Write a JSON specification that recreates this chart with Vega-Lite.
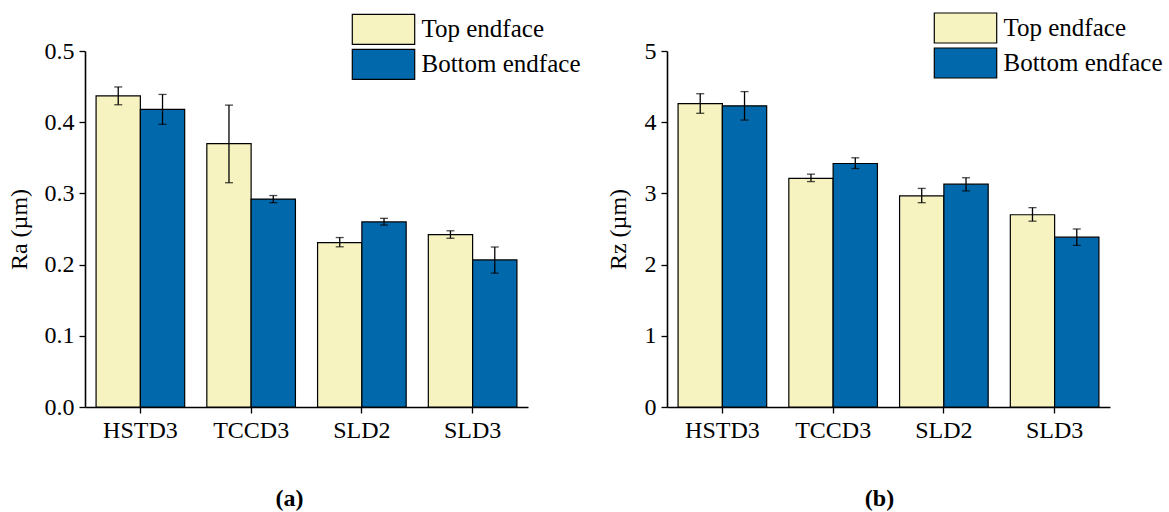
{
  "$schema": "https://vega.github.io/schema/vega-lite/v6.json",
  "padding": {"left": 7, "top": 12, "right": 4, "bottom": 2},
  "background": "white",
  "bounds": "flush",
  "spacing": 139,
  "datasets": {
    "ra": [
      {"group": "HSTD3", "face": "Top endface", "v": 0.437, "lo": 0.4245, "hi": 0.4495},
      {"group": "HSTD3", "face": "Bottom endface", "v": 0.418, "lo": 0.397, "hi": 0.439},
      {"group": "TCCD3", "face": "Top endface", "v": 0.370, "lo": 0.315, "hi": 0.424},
      {"group": "TCCD3", "face": "Bottom endface", "v": 0.292, "lo": 0.287, "hi": 0.297},
      {"group": "SLD2", "face": "Top endface", "v": 0.231, "lo": 0.225, "hi": 0.238},
      {"group": "SLD2", "face": "Bottom endface", "v": 0.260, "lo": 0.2555, "hi": 0.265},
      {"group": "SLD3", "face": "Top endface", "v": 0.242, "lo": 0.237, "hi": 0.2475},
      {"group": "SLD3", "face": "Bottom endface", "v": 0.2065, "lo": 0.188, "hi": 0.2247}
    ],
    "rz": [
      {"group": "HSTD3", "face": "Top endface", "v": 4.26, "lo": 4.125, "hi": 4.40},
      {"group": "HSTD3", "face": "Bottom endface", "v": 4.23, "lo": 4.03, "hi": 4.43},
      {"group": "TCCD3", "face": "Top endface", "v": 3.21, "lo": 3.166, "hi": 3.27},
      {"group": "TCCD3", "face": "Bottom endface", "v": 3.42, "lo": 3.35, "hi": 3.50},
      {"group": "SLD2", "face": "Top endface", "v": 2.965, "lo": 2.87, "hi": 3.07},
      {"group": "SLD2", "face": "Bottom endface", "v": 3.13, "lo": 3.035, "hi": 3.22},
      {"group": "SLD3", "face": "Top endface", "v": 2.70, "lo": 2.61, "hi": 2.80},
      {"group": "SLD3", "face": "Bottom endface", "v": 2.385, "lo": 2.27, "hi": 2.50}
    ]
  },
  "hconcat": [
    {
      "width": 443,
      "height": 356,
      "data": {"name": "ra"},
      "encoding": {
        "x": {
          "field": "group", "type": "nominal",
          "sort": ["HSTD3", "TCCD3", "SLD2", "SLD3"],
          "scale": {"paddingInner": 0.2, "paddingOuter": 0.1},
          "axis": {"title": "(a)", "titleX": 204, "titlePadding": 44, "labelAngle": 0}
        },
        "xOffset": {"field": "face", "type": "nominal", "sort": ["Top endface", "Bottom endface"], "scale": {"paddingInner": 0, "paddingOuter": 0}}
      },
      "layer": [
        {
          "mark": {"type": "bar", "stroke": "black", "strokeWidth": 1.2},
          "encoding": {
            "y": {
              "field": "v", "type": "quantitative",
              "scale": {"domain": [0, 0.5], "nice": false},
              "axis": {
                "title": "Ra (µm)", "titlePadding": 13,
                "values": [0, 0.05, 0.1, 0.15, 0.2, 0.25, 0.3, 0.35, 0.4, 0.45, 0.5],
                "labelExpr": "round(datum.value*20)%2==0 ? format(datum.value,'.1f') : ''",
                "tickSize": {"condition": {"test": "round(datum.value*20)%2==0", "value": 6}, "value": 3}
              }
            },
            "color": {
              "field": "face", "type": "nominal",
              "scale": {"domain": ["Top endface", "Bottom endface"], "range": ["#F6F3C0", "#0068AB"]},
              "legend": {"title": null, "orient": "none", "legendX": 282.5, "legendY": -37.7}
            }
          }
        },
        {
          "mark": {"type": "rule", "color": "black", "strokeWidth": 1.3},
          "encoding": {"y": {"field": "lo", "type": "quantitative"}, "y2": {"field": "hi"}}
        },
        {
          "mark": {"type": "tick", "color": "black", "size": 8, "thickness": 1.3},
          "encoding": {"y": {"field": "lo", "type": "quantitative"}}
        },
        {
          "mark": {"type": "tick", "color": "black", "size": 8, "thickness": 1.3},
          "encoding": {"y": {"field": "hi", "type": "quantitative"}}
        }
      ]
    },
    {
      "width": 443,
      "height": 356,
      "data": {"name": "rz"},
      "encoding": {
        "x": {
          "field": "group", "type": "nominal",
          "sort": ["HSTD3", "TCCD3", "SLD2", "SLD3"],
          "scale": {"paddingInner": 0.2, "paddingOuter": 0.1},
          "axis": {"title": "(b)", "titleX": 212, "titlePadding": 44, "labelAngle": 0}
        },
        "xOffset": {"field": "face", "type": "nominal", "sort": ["Top endface", "Bottom endface"], "scale": {"paddingInner": 0, "paddingOuter": 0}}
      },
      "layer": [
        {
          "mark": {"type": "bar", "stroke": "black", "strokeWidth": 1.2},
          "encoding": {
            "y": {
              "field": "v", "type": "quantitative",
              "scale": {"domain": [0, 5], "nice": false},
              "axis": {
                "title": "Rz (µm)", "titlePadding": 14,
                "values": [0, 0.5, 1, 1.5, 2, 2.5, 3, 3.5, 4, 4.5, 5],
                "labelExpr": "round(datum.value*2)%2==0 ? format(datum.value,'d') : ''",
                "tickSize": {"condition": {"test": "round(datum.value*2)%2==0", "value": 6}, "value": 3}
              }
            },
            "color": {
              "field": "face", "type": "nominal",
              "scale": {"domain": ["Top endface", "Bottom endface"], "range": ["#F6F3C0", "#0068AB"]},
              "legend": {"title": null, "orient": "none", "legendX": 282.5, "legendY": -39}
            }
          }
        },
        {
          "mark": {"type": "rule", "color": "black", "strokeWidth": 1.3},
          "encoding": {"y": {"field": "lo", "type": "quantitative"}, "y2": {"field": "hi"}}
        },
        {
          "mark": {"type": "tick", "color": "black", "size": 8, "thickness": 1.3},
          "encoding": {"y": {"field": "lo", "type": "quantitative"}}
        },
        {
          "mark": {"type": "tick", "color": "black", "size": 8, "thickness": 1.3},
          "encoding": {"y": {"field": "hi", "type": "quantitative"}}
        }
      ]
    }
  ],
  "resolve": {"legend": {"color": "independent"}, "scale": {"y": "independent"}},
  "config": {
    "view": {"stroke": null},
    "font": "Liberation Serif",
    "axis": {
      "labelFont": "Liberation Serif", "labelFontSize": 24, "labelColor": "black",
      "titleFont": "Liberation Serif", "titleFontSize": 24, "titleColor": "black", "titleFontWeight": "normal",
      "domainColor": "black", "domainWidth": 1.6, "tickColor": "black", "tickWidth": 1.3,
      "labelPadding": 5, "grid": false
    },
    "axisX": {"tickSize": 6, "titleFontWeight": "bold", "labelFlush": false},
    "legend": {
      "symbolType": "M-2.08,-1H2.08V1H-2.08Z",
      "symbolSize": 900,
      "symbolStrokeColor": "black",
      "symbolStrokeWidth": 1.2,
      "symbolOpacity": 1,
      "labelFont": "Liberation Serif", "labelFontSize": 25, "labelColor": "black",
      "labelOffset": 22,
      "rowPadding": -1,
      "padding": 0,
      "labelLimit": 400
    }
  }
}
